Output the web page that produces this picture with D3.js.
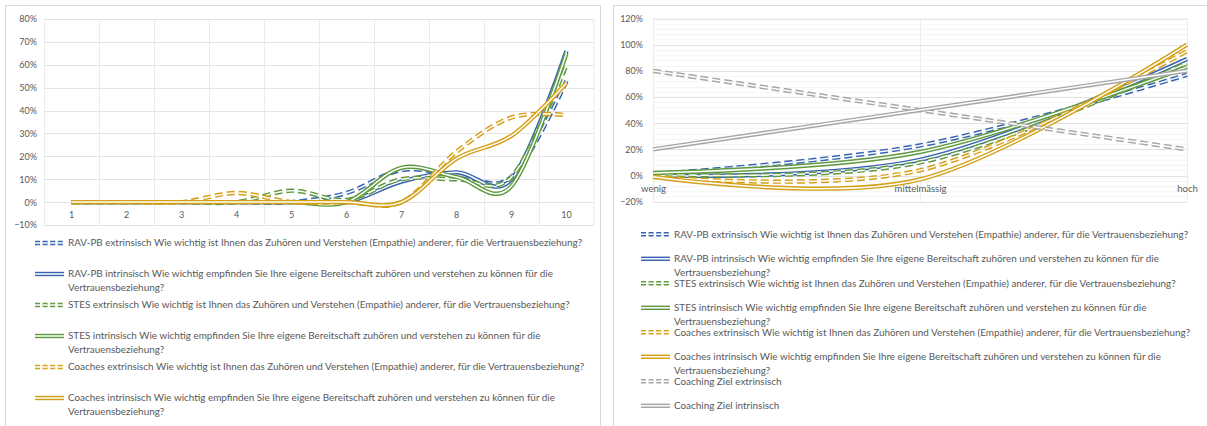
<!DOCTYPE html>
<html>
<head>
<meta charset="utf-8">
<script src="https://cdn.jsdelivr.net/npm/d3@7"></script>
<style>
  body { margin: 0; background: #fff; }
  text { font-family: Lato, "Open Sans", sans-serif; fill: #595959; }
</style>
</head>
<body>
<script>
// ---- data ----
const leftCats = [1, 2, 3, 4, 5, 6, 7, 8, 9, 10];
const leftYTicks = [-0.1, 0, 0.1, 0.2, 0.3, 0.4, 0.5, 0.6, 0.7, 0.8];

const leftRavExt   = [0, 0, 0, 0, 0, 0.04, 0.14, 0.12, 0.11, 0.53];
const leftRavInt   = [0, 0, 0, 0, 0, 0, 0.09, 0.13, 0.10, 0.66];
const leftStesExt  = [0, 0, 0, 0, 0.05, 0.01, 0.10, 0.10, 0.11, 0.60];
const leftStesInt  = [0, 0, 0, 0, 0, 0, 0.15, 0.11, 0.07, 0.65];
const leftCoachExt = [0, 0, 0, 0.04, 0, 0, 0, 0.22, 0.37, 0.38];
const leftCoachInt = [0, 0, 0, 0, 0, 0, 0, 0.19, 0.29, 0.52];

const rightCats = ["wenig", "mittelmässig", "hoch"];
const rightYTicks = [-0.2, 0, 0.2, 0.4, 0.6, 0.8, 1.0, 1.2];

const rightRavExt   = [0.01, 0.23, 0.77];
const rightRavInt   = [0.00, 0.12, 0.89];
const rightStesExt  = [0.01, 0.10, 0.86];
const rightStesInt  = [0.02, 0.18, 0.83];
const rightCoachExt = [-0.01, 0.04, 0.95];
const rightCoachInt = [-0.01, -0.03, 1.00];
const rightZielExt  = [0.80, 0.50, 0.20];
const rightZielInt  = [0.20, 0.50, 0.80];

const legendLines = [
  ["RAV-PB extrinsisch Wie wichtig ist Ihnen das Zuhören und Verstehen (Empathie) anderer, für die Vertrauensbeziehung?"],
  ["RAV-PB intrinsisch Wie wichtig empfinden Sie Ihre eigene Bereitschaft zuhören und verstehen zu können für die", "Vertrauensbeziehung?"],
  ["STES extrinsisch Wie wichtig ist Ihnen das Zuhören und Verstehen (Empathie) anderer, für die Vertrauensbeziehung?"],
  ["STES intrinsisch Wie wichtig empfinden Sie Ihre eigene Bereitschaft zuhören und verstehen zu können für die", "Vertrauensbeziehung?"],
  ["Coaches extrinsisch Wie wichtig ist Ihnen das Zuhören und Verstehen (Empathie) anderer, für die Vertrauensbeziehung?"],
  ["Coaches intrinsisch Wie wichtig empfinden Sie Ihre eigene Bereitschaft zuhören und verstehen zu können für die", "Vertrauensbeziehung?"],
  ["Coaching Ziel extrinsisch"],
  ["Coaching Ziel intrinsisch"]
];

// styles per series (same order as legend)
const seriesColor = ["#3763b0", "#3763b0", "#5f9b3e", "#5f9b3e", "#d4a017", "#d4a017", "#a6a6a6", "#a6a6a6"];
const seriesDashed = [true, false, true, false, true, false, true, false];

const leftSeries = [leftRavExt, leftRavInt, leftStesExt, leftStesInt, leftCoachExt, leftCoachInt];
const rightSeries = [rightRavExt, rightRavInt, rightStesExt, rightStesInt, rightCoachExt, rightCoachInt, rightZielExt, rightZielInt];

// ---- layout ----
const width = 1207;
const height = 426;
const gridColor = "#dcdcdc";

const svg = d3.select("body").append("svg")
  .attr("width", width)
  .attr("height", height);

// panel frames
svg.append("rect").attr("x", 5.5).attr("y", 5.5).attr("width", 595).attr("height", 440)
  .attr("fill", "none").attr("stroke", "#d9d9d9");
svg.append("rect").attr("x", 613.5).attr("y", 5.5).attr("width", 600).attr("height", 440)
  .attr("fill", "none").attr("stroke", "#d9d9d9");

const curve = d3.curveCardinal.tension(0);

// excel-like "double" compound line: wide coloured stroke with a thin white core
function doubleLine(g, pts, color, dashed, dash) {
  const line = d3.line().curve(curve);
  g.append("path")
    .attr("d", line(pts))
    .attr("fill", "none")
    .attr("stroke", color)
    .attr("stroke-width", 4.4)
    .attr("stroke-dasharray", dashed ? dash : null);
  g.append("path")
    .attr("d", line(pts))
    .attr("fill", "none")
    .attr("stroke", "#fff")
    .attr("stroke-width", 1.5)
    .attr("stroke-dasharray", dashed ? dash : null);
}

// ---- left chart ----
const xL = d3.scaleBand().domain(leftCats).range([44, 594]);
const yL = d3.scaleLinear().domain([-0.1, 0.8]).range([225, 19]);

const gL = svg.append("g");

gL.selectAll("line.hgrid").data(leftYTicks).join("line")
  .attr("x1", 44).attr("x2", 594)
  .attr("y1", d => Math.round(yL(d)) + 0.5).attr("y2", d => Math.round(yL(d)) + 0.5)
  .attr("stroke", gridColor).attr("stroke-width", 0.8);

gL.selectAll("line.vgrid").data(leftCats.concat(["end"])).join("line")
  .attr("x1", d => d === "end" ? 594 : Math.round(xL(d)) + 0.5)
  .attr("x2", d => d === "end" ? 594 : Math.round(xL(d)) + 0.5)
  .attr("y1", yL(0.8)).attr("y2", yL(-0.1))
  .attr("stroke", "#e6e6e6").attr("stroke-width", 0.8);

const axLY = gL.append("g")
  .attr("transform", "translate(44,0)")
  .call(d3.axisLeft(yL).tickValues(leftYTicks).tickFormat(d3.format(".0%")).tickSize(0).tickPadding(7));
axLY.select(".domain").remove();
axLY.selectAll("text").style("font-size", "9px").style("fill", "#595959");

const axLX = gL.append("g")
  .attr("transform", `translate(0,${yL(0)})`)
  .call(d3.axisBottom(xL).tickSize(0).tickPadding(10));
axLX.select(".domain").remove();
axLX.selectAll("text").style("font-size", "9px").style("fill", "#595959");

leftSeries.forEach((vals, i) => {
  const pts = vals.map((v, j) => [xL(leftCats[j]) + xL.bandwidth() / 2, yL(v)]);
  doubleLine(gL, pts, seriesColor[i], seriesDashed[i], "8,4");
});

// ---- right chart ----
const xR = d3.scalePoint().domain(rightCats).range([653, 1187]);
const yR = d3.scaleLinear().domain([-0.2, 1.2]).range([201.7, 18.5]);

const gR = svg.append("g");

const minorTicks = d3.range(-0.2, 1.2001, 0.04);
gR.selectAll("line.minor").data(minorTicks).join("line")
  .attr("x1", 653).attr("x2", 1187)
  .attr("y1", d => Math.round(yR(d)) + 0.5).attr("y2", d => Math.round(yR(d)) + 0.5)
  .attr("stroke", "#f4f4f4").attr("stroke-width", 0.8);

gR.selectAll("line.hgrid").data(rightYTicks).join("line")
  .attr("x1", 653).attr("x2", 1187)
  .attr("y1", d => Math.round(yR(d)) + 0.5).attr("y2", d => Math.round(yR(d)) + 0.5)
  .attr("stroke", gridColor).attr("stroke-width", 0.8);

gR.selectAll("line.vgrid").data(rightCats).join("line")
  .attr("x1", d => Math.round(xR(d)) + 0.5).attr("x2", d => Math.round(xR(d)) + 0.5)
  .attr("y1", yR(1.2)).attr("y2", yR(-0.2))
  .attr("stroke", "#e8e8e8").attr("stroke-width", 0.8);

const axRY = gR.append("g")
  .attr("transform", "translate(653,0)")
  .call(d3.axisLeft(yR).tickValues(rightYTicks).tickFormat(d3.format(".0%")).tickSize(0).tickPadding(10));
axRY.select(".domain").remove();
axRY.selectAll("text").style("font-size", "9px").style("fill", "#595959");

const axRX = gR.append("g")
  .attr("transform", `translate(0,${yR(0)})`)
  .call(d3.axisBottom(xR).tickSize(0).tickPadding(10));
axRX.select(".domain").remove();
axRX.selectAll("text").style("font-size", "9.5px").style("fill", "#595959");

rightSeries.forEach((vals, i) => {
  const pts = vals.map((v, j) => [xR(rightCats[j]), yR(v)]);
  doubleLine(gR, pts, seriesColor[i], seriesDashed[i], "8,4");
});

// ---- legends ----
// fit font size so the first entry spans the same width as in the original
const probe = svg.append("text").style("font-size", "10px").text(legendLines[0][0]);
const probeW = probe.node().getComputedTextLength();
probe.remove();
const legendFont = 10 * 515 / probeW;

function drawLegend(x0, textX, y0, step, count) {
  const g = svg.append("g");
  for (let i = 0; i < count; i++) {
    const y = y0 + i * step;
    doubleLine(g, [[x0, y], [x0 + 29, y]], seriesColor[i], seriesDashed[i], "5,2.6");
    legendLines[i].forEach((t, k) => {
      g.append("text")
        .attr("x", textX)
        .attr("y", y + k * 13.4)
        .attr("dy", "0.35em")
        .style("font-size", legendFont + "px")
        .text(t);
    });
  }
}

drawLegend(35, 68, 243, 31, 6);
drawLegend(641, 674, 234.3, 24.5, 8);
</script>
</body>
</html>
